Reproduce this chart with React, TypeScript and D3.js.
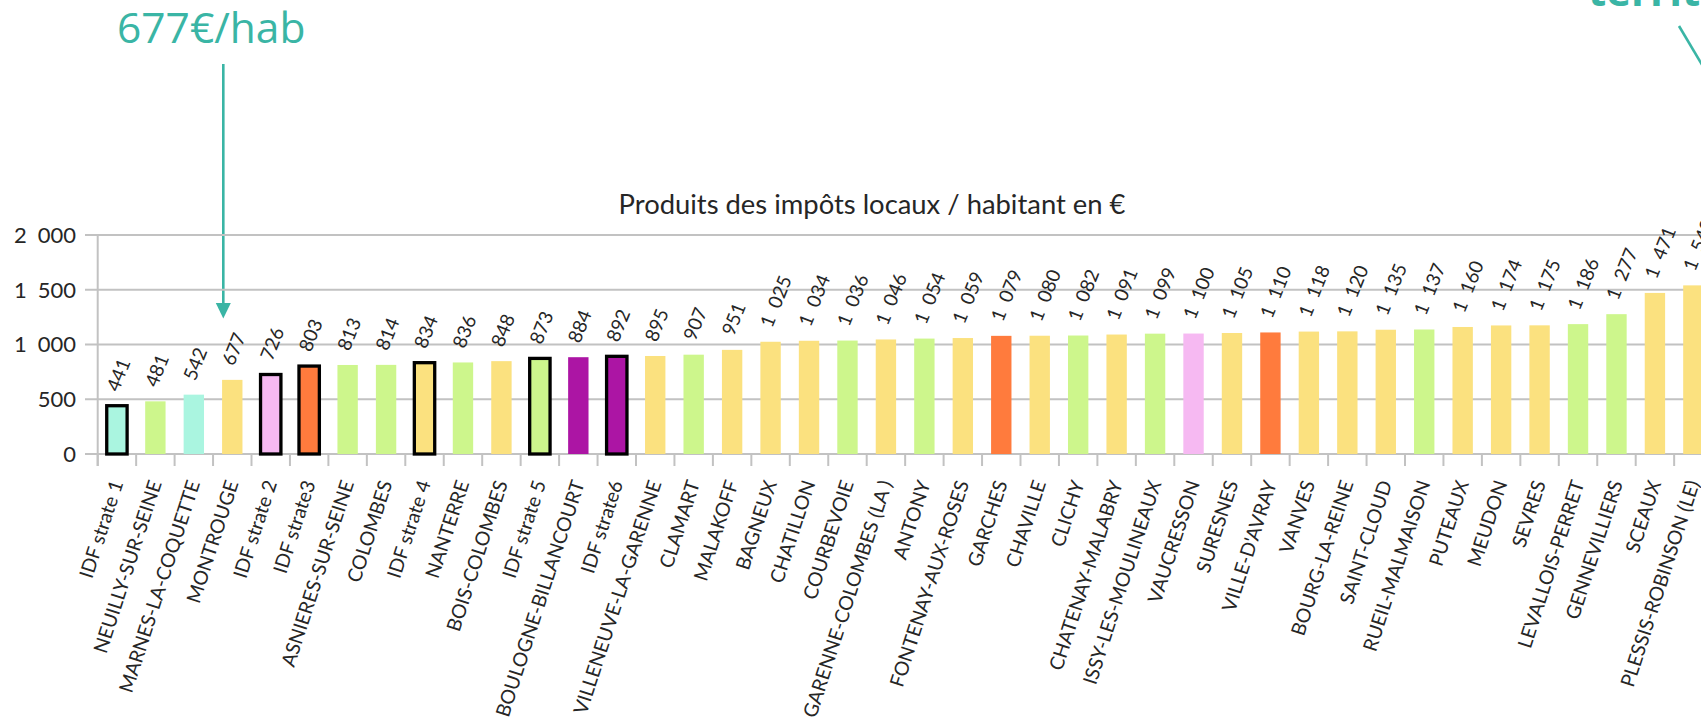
import React from 'react';
import * as d3 from 'd3';

// Communes des Hauts-de-Seine + moyennes IDF par strate
const categories = [
    'IDF strate 1', 'NEUILLY-SUR-SEINE', 'MARNES-LA-COQUETTE', 'MONTROUGE', 'IDF strate 2',
    'IDF strate3', 'ASNIERES-SUR-SEINE', 'COLOMBES', 'IDF strate 4', 'NANTERRE',
    'BOIS-COLOMBES', 'IDF strate 5', 'BOULOGNE-BILLANCOURT', 'IDF strate6', 'VILLENEUVE-LA-GARENNE',
    'CLAMART', 'MALAKOFF', 'BAGNEUX', 'CHATILLON', 'COURBEVOIE',
    'GARENNE-COLOMBES (LA )', 'ANTONY', 'FONTENAY-AUX-ROSES', 'GARCHES', 'CHAVILLE',
    'CLICHY', 'CHATENAY-MALABRY', 'ISSY-LES-MOULINEAUX', 'VAUCRESSON', 'SURESNES',
    "VILLE-D'AVRAY", 'VANVES', 'BOURG-LA-REINE', 'SAINT-CLOUD', 'RUEIL-MALMAISON',
    'PUTEAUX', 'MEUDON', 'SEVRES', 'LEVALLOIS-PERRET', 'GENNEVILLIERS',
    'SCEAUX', 'PLESSIS-ROBINSON (LE)'
];

const values = [
    441, 481, 542, 677, 726, 803, 813, 814, 834, 836,
    848, 873, 884, 892, 895, 907, 951, 1025, 1034, 1036,
    1046, 1054, 1059, 1079, 1080, 1082, 1091, 1099, 1100, 1105,
    1110, 1118, 1120, 1135, 1137, 1160, 1174, 1175, 1186, 1277,
    1471, 1540
];

// strate démographique de chaque ligne (donne la couleur)
const strates = [
    1, 5, 1, 4, 2, 3, 5, 5, 4, 5,
    4, 5, 6, 6, 4, 5, 4, 4, 4, 5,
    4, 5, 4, 3, 4, 5, 4, 5, 2, 4,
    3, 4, 4, 4, 5, 4, 4, 4, 5, 5,
    4, 4
];

const yTicks = [0, 500, 1000, 1500, 2000];

const strateColors: Record<number, string> = {
    1: '#aaf5e0',
    2: '#f6b9f2',
    3: '#ff7b3d',
    4: '#fbe17f',
    5: '#cdf68c',
    6: '#ac15a4'
};

const TEAL = '#3ab5a5';
const GRID = '#c2c2c2';
const TEXT = '#262626';
const FONT = 'Lato, sans-serif';

const fr = d3.formatLocale({ decimal: ',', thousands: '\u2002', grouping: [3], currency: ['', '€'] });
const fmt = fr.format(',d');

const App: React.FC = () => {
    const width = 1701;
    const height = 721;

    const x0 = 97.7;
    const step = 38.45;
    const x = d3.scaleBand<string>()
        .domain(categories)
        .range([x0, x0 + step * categories.length])
        .paddingInner(0.47)
        .paddingOuter(0.235);

    const y = d3.scaleLinear().domain([0, 2000]).range([454, 235]);

    const bw = x.bandwidth();
    const boundaries = d3.range(categories.length + 1).map(i => x0 + i * x.step());

    const rows = categories.map((c, i) => ({ name: c, value: values[i], strate: strates[i] }));

    return (
        <svg
            width={width}
            height={height}
            style={{ position: 'fixed', top: 0, left: 0, background: '#fff' }}
        >
            {/* annotation gauche */}
            <text x={117} y={43} fontFamily="'Open Sans', sans-serif" fontSize={42.5} fill={TEAL}>
                677€/hab
            </text>
            <line x1={223.3} y1={64} x2={223.3} y2={305} stroke={TEAL} strokeWidth={2.6} />
            <path d="M215.8,303 L230.8,303 L223.3,318.5 Z" fill={TEAL} />

            {/* annotation droite (coupée) */}
            <text x={1588} y={6} fontFamily="'Open Sans', sans-serif" fontWeight={700} fontSize={42} fill={TEAL}>
                territoire
            </text>
            <line x1={1679} y1={26} x2={1739} y2={127} stroke={TEAL} strokeWidth={2.6} />

            {/* titre */}
            <text x={872} y={214} textAnchor="middle" fontFamily={FONT} fontSize={27.4} fill={TEXT}>
                Produits des impôts locaux / habitant en €
            </text>

            {/* grille + axe y */}
            {yTicks.map(t => (
                <g key={t}>
                    <line x1={85} x2={width} y1={y(t)} y2={y(t)} stroke={GRID} strokeWidth={2} />
                    <text
                        x={76}
                        y={y(t)}
                        dy="0.36em"
                        textAnchor="end"
                        fontFamily={FONT}
                        fontSize={22}
                        fill={TEXT}
                    >
                        {fmt(t)}
                    </text>
                </g>
            ))}
            <line x1={x0} x2={x0} y1={y(2000)} y2={y(0) + 12} stroke={GRID} strokeWidth={2} />
            {boundaries.map((b, i) => (
                <line key={i} x1={b} x2={b} y1={y(0)} y2={y(0) + 12} stroke={GRID} strokeWidth={2} />
            ))}

            {/* barres */}
            {rows.map(d => {
                const bx = x(d.name) as number;
                const top = y(d.value);
                const strate = d.name.startsWith('IDF strate');
                return (
                    <rect
                        key={d.name}
                        x={bx}
                        y={top}
                        width={bw}
                        height={y(0) - top}
                        fill={strateColors[d.strate]}
                        stroke={strate ? '#000' : 'none'}
                        strokeWidth={strate ? 3.3 : 0}
                    />
                );
            })}

            {/* valeurs */}
            {rows.map(d => {
                const cx = (x(d.name) as number) + bw / 2;
                const top = y(d.value);
                return (
                    <text
                        key={d.name}
                        transform={`translate(${cx + 1.5},${top - 13}) rotate(-68)`}
                        fontFamily={FONT}
                        fontSize={19}
                        fill={TEXT}
                    >
                        {fmt(d.value)}
                    </text>
                );
            })}

            {/* libellés catégories */}
            {rows.map(d => {
                const cx = (x(d.name) as number) + bw / 2;
                return (
                    <text
                        key={d.name}
                        transform={`translate(${cx},${481}) rotate(-72)`}
                        dy="0.35em"
                        textAnchor="end"
                        fontFamily={FONT}
                        fontSize={19.5}
                        fill={TEXT}
                    >
                        {d.name}
                    </text>
                );
            })}
        </svg>
    );
};

export default App;
